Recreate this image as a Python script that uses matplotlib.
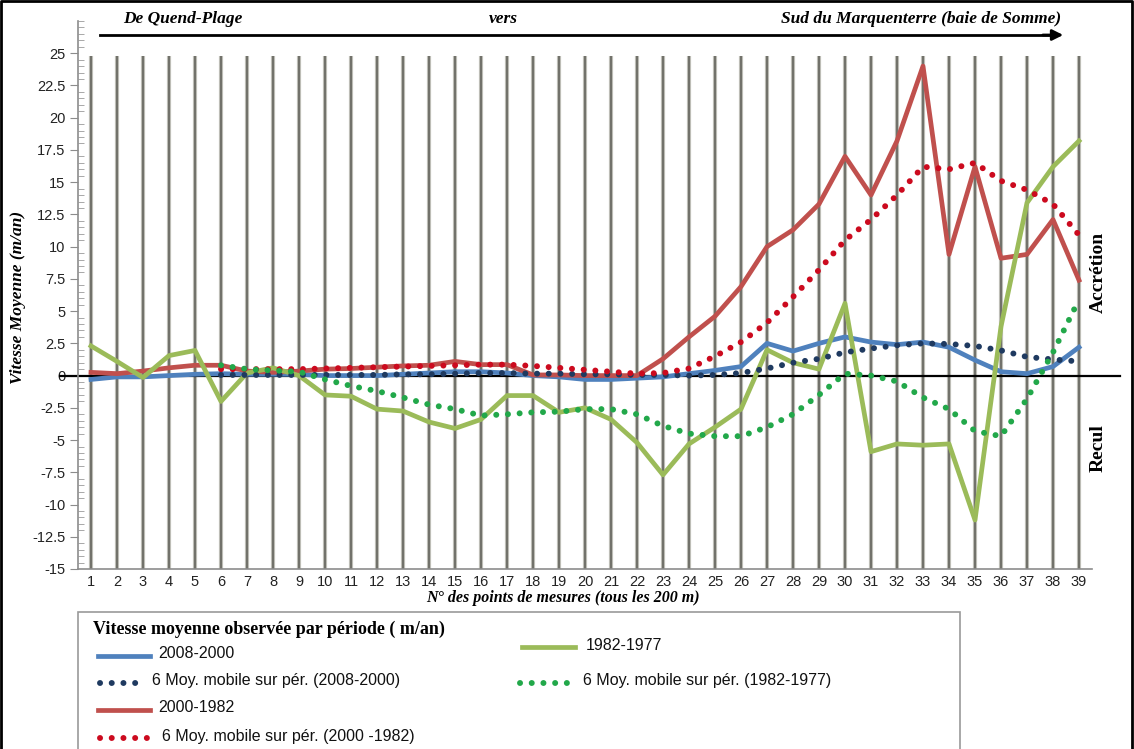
import numpy as np
import matplotlib.pyplot as plt
from matplotlib.lines import Line2D
from matplotlib.patches import Rectangle

# points de mesure (tous les 200 m)
points = np.arange(1, 40)
points_ma = np.arange(6, 40)

# vitesses moyennes (m/an)
v_2008_2000 = [-0.3, -0.1, -0.1, 0.0, 0.1, 0.15, 0.1, 0.1, 0.1, 0.0,
               0.0, 0.0, 0.1, 0.2, 0.3, 0.3, 0.2, 0.0, -0.1, -0.3,
               -0.3, -0.2, -0.1, 0.15, 0.4, 0.7, 2.5, 1.9, 2.5, 3.0,
               2.6, 2.4, 2.6, 2.2, 1.2, 0.3, 0.15, 0.7, 2.2]
v_2000_1982 = [0.25, 0.15, 0.35, 0.6, 0.8, 0.8, 0.35, 0.25, 0.35, 0.5,
               0.55, 0.65, 0.75, 0.8, 1.1, 0.85, 0.85, 0.05, 0.05, 0.0,
               0.0, 0.0, 1.3, 3.0, 4.6, 6.9, 10.0, 11.3, 13.3, 17.0,
               14.0, 18.2, 24.0, 9.4, 16.2, 9.1, 9.4, 12.1, 7.4]
v_1982_1977 = [2.3, 1.1, -0.15, 1.55, 1.95, -2.0, 0.2, 0.6, 0.0, -1.5,
               -1.6, -2.6, -2.75, -3.6, -4.1, -3.4, -1.55, -1.55, -2.85, -2.5,
               -3.4, -5.2, -7.7, -5.3, -4.0, -2.6, 2.0, 1.0, 0.5, 5.6,
               -5.9, -5.3, -5.4, -5.3, -11.2, 3.8, 13.4, 16.2, 18.2]

# moyennes mobiles sur 6 périodes (à partir du point 6)
ma_2008_2000 = [0.05, 0.05, 0.05, 0.05, 0.05, 0.05, 0.05, 0.1, 0.1, 0.15,
                0.2, 0.2, 0.15, 0.15, 0.1, 0.1, 0.05, 0.05, 0.0, 0.05,
                0.2, 0.55, 1.0, 1.3, 1.8, 2.1, 2.35, 2.5, 2.45, 2.3,
                1.95, 1.45, 1.25, 1.1]
ma_2000_1982 = [0.5, 0.5, 0.5, 0.5, 0.55, 0.6, 0.65, 0.7, 0.75, 0.8,
                0.85, 0.85, 0.75, 0.6, 0.45, 0.3, 0.15, 0.2, 0.55, 1.5,
                2.6, 4.1, 6.1, 8.2, 10.5, 12.1, 14.0, 16.2, 16.0, 16.5,
                15.1, 14.4, 13.3, 10.9]
ma_1982_1977 = [0.8, 0.5, 0.4, 0.3, -0.3, -0.8, -1.2, -1.7, -2.25, -2.6,
                -3.1, -3.0, -2.85, -2.8, -2.6, -2.6, -3.0, -3.9, -4.5, -4.7,
                -4.7, -4.0, -3.0, -1.5, 0.15, 0.0, -0.45, -1.7, -2.6, -4.3,
                -4.7, -1.8, 1.8, 5.9]

yticks = np.arange(-15, 25.1, 2.5)
ytick_labels = ['-15', '-12.5', '-10', '-7.5', '-5', '-2.5', '0', '2.5', '5',
                '7.5', '10', '12.5', '15', '17.5', '20', '22.5', '25']

c_blue = '#4F81BD'
c_red = '#C0504D'
c_green = '#9BBB59'
c_navy = '#1F3A60'
c_red_dot = '#CC0A1E'
c_green_dot = '#22A84A'

W, H = 1134, 749


def fx(x):
    return x / W


def fy(y):
    return 1 - y / H


sans = ['Liberation Sans', 'DejaVu Sans']
serif = ['Liberation Serif', 'DejaVu Serif']

fig = plt.figure(figsize=(W / 100, H / 100), dpi=100)
ax = fig.add_axes([fx(78), fy(569), fx(1092) - fx(78), fy(21) - fy(569)])

ax.set_xlim(0.5, 39.5)
ax.set_ylim(-15, 27.5)

# lignes verticales grises (bord clair, coeur foncé)
ax.vlines(points, -15, 24.8, color='#bdbdb6', lw=3.0, zorder=1)
ax.vlines(points, -15, 24.8, color='#707069', lw=1.4, zorder=1)

# ligne du zéro qui dépasse du graphique
ax.axhline(0, xmin=-0.018, xmax=1.028, color='black', lw=1.6, clip_on=False, zorder=2)

dot = (0, (0.01, 1.95))
ax.plot(points, v_2008_2000, color=c_blue, lw=3.4, zorder=3)
ax.plot(points, v_2000_1982, color=c_red, lw=3.4, zorder=3)
ax.plot(points, v_1982_1977, color=c_green, lw=3.4, zorder=3)
ax.plot(points_ma, ma_2008_2000, color=c_navy, lw=4.3, ls=dot,
        dash_capstyle='round', zorder=4)
ax.plot(points_ma, ma_2000_1982, color=c_red_dot, lw=4.3, ls=dot,
        dash_capstyle='round', zorder=4)
ax.plot(points_ma, ma_1982_1977, color=c_green_dot, lw=4.3, ls=dot,
        dash_capstyle='round', zorder=4)

# axes
for s in ['top', 'right']:
    ax.spines[s].set_visible(False)
for s in ['left', 'bottom']:
    ax.spines[s].set_color('#8c8c8c')
    ax.spines[s].set_linewidth(1.2)

ax.set_yticks(yticks, labels=ytick_labels)
ax.set_yticks(np.arange(-15, 27.6, 0.5), minor=True)
ax.tick_params(axis='y', which='major', length=6, color='#8c8c8c', pad=3,
               labelsize=10.5, labelcolor='#222222', direction='out')
ax.tick_params(axis='y', which='minor', length=4, color='#9a9a9a', direction='in')
for t in ax.get_yticklabels():
    t.set_family(sans)

ax.set_xticks(points, labels=[str(p) for p in points])
ax.tick_params(axis='x', length=0, pad=4, labelsize=10.5, labelcolor='#222222')
for t in ax.get_xticklabels():
    t.set_family(sans)

# titres d'axes
fig.text(fx(18), fy(297), 'Vitesse Moyenne (m/an)', rotation=90, ha='center', va='center',
         family=serif, style='italic', weight='bold', fontsize=12.5)
fig.text(fx(563), fy(598), 'N° des points de mesures (tous les 200 m)', ha='center', va='center',
         family=serif, style='italic', weight='bold', fontsize=11.5)
fig.text(fx(1098), fy(272), 'Accrétion', rotation=90, ha='center', va='center',
         family=serif, weight='bold', fontsize=14)
fig.text(fx(1098), fy(448), 'Recul', rotation=90, ha='center', va='center',
         family=serif, weight='bold', fontsize=14)

# flèche et sens
fig.add_artist(Line2D([fx(100), fx(1052)], [fy(35), fy(35)], color='black', lw=2.0))
ax.annotate('', xy=(fx(1066), fy(35)), xytext=(fx(1040), fy(35)), xycoords='figure fraction',
            arrowprops=dict(arrowstyle='-|>', color='black', lw=2.0, mutation_scale=16))
fig.text(fx(183), fy(19), 'De Quend-Plage', ha='center', va='center',
         family=serif, style='italic', weight='bold', fontsize=12.5)
fig.text(fx(503), fy(19), 'vers', ha='center', va='center',
         family=serif, style='italic', weight='bold', fontsize=12.5)
fig.text(fx(921), fy(19), 'Sud du Marquenterre (baie de Somme)', ha='center', va='center',
         family=serif, style='italic', weight='bold', fontsize=12.5)

# légende dessinée à la main
fig.add_artist(Rectangle((fx(78), fy(760)), fx(960) - fx(78), fy(612) - fy(760),
                         transform=fig.transFigure, facecolor='white',
                         edgecolor='#9a9a9a', lw=1.2))
fig.text(fx(93), fy(629), 'Vitesse moyenne observée par période ( m/an)', ha='left', va='center',
         family=serif, weight='bold', fontsize=13)

legend_items = [
    (98, 150, 656, 158, c_blue, '-', '2008-2000'),
    (100, 142, 683, 152, c_navy, dot, '6 Moy. mobile sur pér. (2008-2000)'),
    (98, 150, 710, 158, c_red, '-', '2000-1982'),
    (100, 148, 738, 162, c_red_dot, dot, '6 Moy. mobile sur pér. (2000 -1982)'),
    (522, 575, 647, 586, c_green, '-', '1982-1977'),
    (520, 570, 683, 583, c_green_dot, dot, '6 Moy. mobile sur pér. (1982-1977)'),
]
for x0, x1, y, xt, col, style, lab in legend_items:
    if style == '-':
        fig.add_artist(Line2D([fx(x0), fx(x1)], [fy(y), fy(y)], color=col, lw=3.4))
    else:
        fig.add_artist(Line2D([fx(x0), fx(x1)], [fy(y), fy(y)], color=col, lw=4.3,
                              ls=style, dash_capstyle='round'))
    fig.text(fx(xt), fy(y - 2), lab, ha='left', va='center', family=sans, fontsize=11.5,
             color='#111111')

# cadre noir autour de l'image
fig.add_artist(Line2D([0.001, 0.001, 0.998, 0.998], [0, 0.998, 0.998, 0],
                      color='black', lw=2.0))

fig.savefig('out.png', dpi=100)
